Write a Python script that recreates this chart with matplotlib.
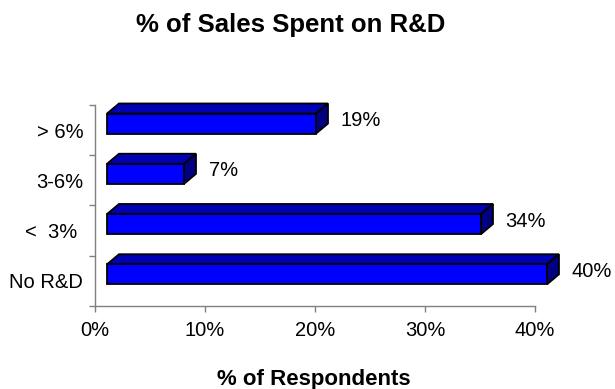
import numpy as np
import matplotlib
matplotlib.use('Agg')
import matplotlib.pyplot as plt
from matplotlib.patches import Polygon
from matplotlib.ticker import FixedLocator, NullFormatter

plt.rcParams['font.family'] = ['Liberation Sans', 'DejaVu Sans']

# Данные
categories = ['No R&D', '<  3% ', '3-6%', '> 6%']
values = [40, 34, 7, 19]
value_labels = ['40%', '34%', '7%', '19%']
x_ticks = [0, 10, 20, 30, 40]
x_ticklabels = ['0%', '10%', '20%', '30%', '40%']

# Цвета граней "объёмного" столбца
c_front = '#0000FF'
c_top = '#0000B4'
c_side = '#000080'

fig = plt.figure(figsize=(6.15, 3.89), dpi=100)
ax = fig.add_axes([0.1545, 0.2134, 0.7154, 0.5167])
ax.set_xlim(0, 40)
ax.set_ylim(0, 4)

dx = 1.09   # глубина по x
dy = 0.2    # глубина по y
h = 0.4     # высота передней грани
y0 = 0.43   # низ передней грани внутри полосы
fs = 14.5

for i, (v, lab) in enumerate(zip(values, value_labels)):
    x1, x2 = dx, dx + v
    b, t = i + y0, i + y0 + h
    top = Polygon([(x1, t), (x1 + dx, t + dy), (x2 + dx, t + dy), (x2, t)],
                  closed=True, facecolor=c_top, edgecolor='black', lw=1.3,
                  joinstyle='miter', clip_on=False)
    side = Polygon([(x2, b), (x2 + dx, b + dy), (x2 + dx, t + dy), (x2, t)],
                   closed=True, facecolor=c_side, edgecolor='black', lw=1.3,
                   joinstyle='miter', clip_on=False)
    front = Polygon([(x1, b), (x2, b), (x2, t), (x1, t)],
                    closed=True, facecolor=c_front, edgecolor='black', lw=1.3,
                    joinstyle='miter', clip_on=False)
    for p in (top, side, front):
        ax.add_patch(p)
    ax.text(v + 2 * dx + 1.15, i + y0 + h / 2 + dy / 2, lab,
            fontsize=fs, va='center_baseline', ha='left')

for s in ('top', 'right'):
    ax.spines[s].set_visible(False)
for s in ('left', 'bottom'):
    ax.spines[s].set_color('#808080')
    ax.spines[s].set_linewidth(1.0)

ax.set_xticks(x_ticks)
ax.set_xticklabels(x_ticklabels, fontsize=fs)
ax.tick_params(axis='x', direction='out', length=4, width=1.0,
               color='#808080', pad=6.5)

ax.yaxis.set_major_locator(FixedLocator([0, 1, 2, 3, 4]))
ax.yaxis.set_major_formatter(NullFormatter())
ax.yaxis.set_minor_locator(FixedLocator(np.arange(len(categories)) + 0.5))
ax.set_yticklabels(categories, minor=True, fontsize=fs, va='center_baseline')
ax.tick_params(axis='y', which='major', direction='out', length=4,
               width=1.0, color='#808080')
ax.tick_params(axis='y', which='minor', length=0, pad=8.5)

fig.text(291 / 615, 1 - 32 / 389, '% of Sales Spent on R&D', fontsize=18.5,
         fontweight='bold', ha='center', va='baseline')
fig.text(314 / 615, 1 - 385 / 389, '% of Respondents', fontsize=16,
         fontweight='bold', ha='center', va='baseline')

fig.savefig('out.png', dpi=100)
